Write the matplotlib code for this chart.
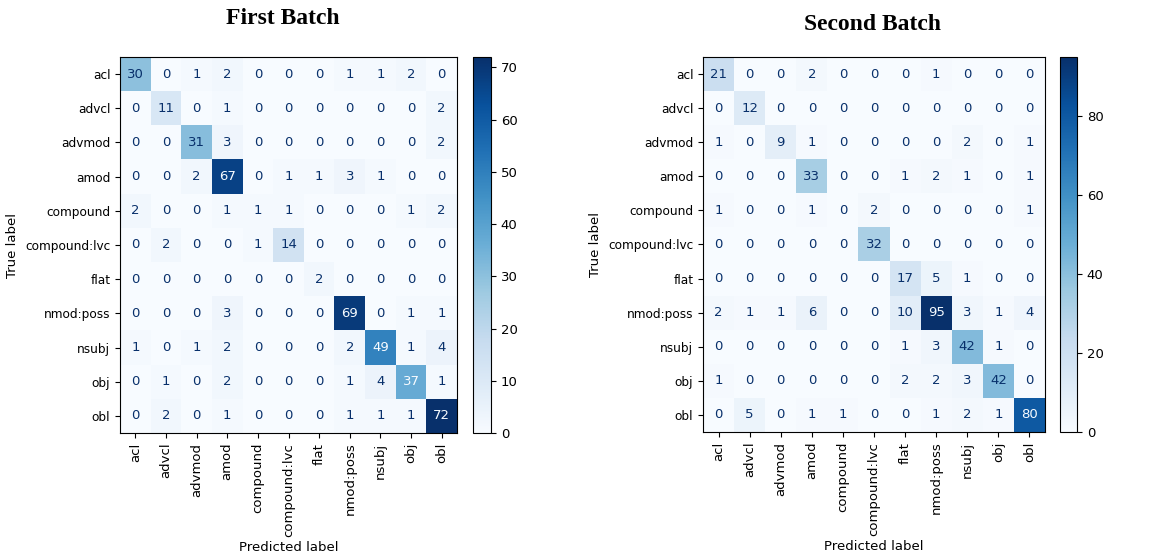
import numpy as np
import matplotlib
matplotlib.use("Agg")
import matplotlib.pyplot as plt

labels = ["acl", "advcl", "advmod", "amod", "compound", "compound:lvc",
          "flat", "nmod:poss", "nsubj", "obj", "obl"]

first_batch = [
    [30, 0, 1, 2, 0, 0, 0, 1, 1, 2, 0],
    [0, 11, 0, 1, 0, 0, 0, 0, 0, 0, 2],
    [0, 0, 31, 3, 0, 0, 0, 0, 0, 0, 2],
    [0, 0, 2, 67, 0, 1, 1, 3, 1, 0, 0],
    [2, 0, 0, 1, 1, 1, 0, 0, 0, 1, 2],
    [0, 2, 0, 0, 1, 14, 0, 0, 0, 0, 0],
    [0, 0, 0, 0, 0, 0, 2, 0, 0, 0, 0],
    [0, 0, 0, 3, 0, 0, 0, 69, 0, 1, 1],
    [1, 0, 1, 2, 0, 0, 0, 2, 49, 1, 4],
    [0, 1, 0, 2, 0, 0, 0, 1, 4, 37, 1],
    [0, 2, 0, 1, 0, 0, 0, 1, 1, 1, 72],
]

second_batch = [
    [21, 0, 0, 2, 0, 0, 0, 1, 0, 0, 0],
    [0, 12, 0, 0, 0, 0, 0, 0, 0, 0, 0],
    [1, 0, 9, 1, 0, 0, 0, 0, 2, 0, 1],
    [0, 0, 0, 33, 0, 0, 1, 2, 1, 0, 1],
    [1, 0, 0, 1, 0, 2, 0, 0, 0, 0, 1],
    [0, 0, 0, 0, 0, 32, 0, 0, 0, 0, 0],
    [0, 0, 0, 0, 0, 0, 17, 5, 1, 0, 0],
    [2, 1, 1, 6, 0, 0, 10, 95, 3, 1, 4],
    [0, 0, 0, 0, 0, 0, 1, 3, 42, 1, 0],
    [1, 0, 0, 0, 0, 0, 2, 2, 3, 42, 0],
    [0, 5, 0, 1, 1, 0, 0, 1, 2, 1, 80],
]

titles = ["First Batch", "Second Batch"]

W, H = 1150, 553
fig = plt.figure(figsize=(W / 100, H / 100), dpi=100)
cmap = plt.get_cmap("Blues")


def px(x0, y0, x1, y1):
    # pixel box (top-left origin) -> figure fraction rect
    return [x0 / W, 1 - y1 / H, (x1 - x0) / W, (y1 - y0) / H]


def draw_cm(ax, cax, data):
    cm = np.array(data)
    im = ax.imshow(cm, cmap=cmap, aspect="auto", interpolation="nearest")
    thresh = (cm.max() + cm.min()) / 2.0
    cmin, cmax = cmap(0.0), cmap(1.0)
    for i in range(cm.shape[0]):
        for j in range(cm.shape[1]):
            ax.text(j, i, str(cm[i, j]), ha="center", va="center", fontsize=9.5,
                    color=cmax if cm[i, j] < thresh else cmin)
    ax.set_xticks(range(len(labels)))
    ax.set_yticks(range(len(labels)))
    ax.set_xticklabels(labels, rotation=90, fontsize=9.5)
    ax.set_yticklabels(labels, fontsize=8.7)
    ax.set_xlabel("Predicted label", fontsize=9.5, labelpad=3)
    ax.set_ylabel("True label", fontsize=9.5)
    cb = fig.colorbar(im, cax=cax)
    cb.ax.tick_params(labelsize=9.5)
    cb.outline.set_linewidth(0.8)


ax1 = fig.add_axes(px(120, 57, 457, 433))
cax1 = fig.add_axes(px(473, 57, 491, 433))
draw_cm(ax1, cax1, first_batch)

ax2 = fig.add_axes(px(703, 57, 1045, 432))
cax2 = fig.add_axes(px(1060, 57, 1077, 432))
draw_cm(ax2, cax2, second_batch)

fig.text(283 / W, 1 - 19 / H, titles[0], ha="center", va="center",
         fontsize=17, fontweight="bold", family="Liberation Serif")
fig.text(873 / W, 1 - 24 / H, titles[1], ha="center", va="center",
         fontsize=17, fontweight="bold", family="Liberation Serif")

fig.savefig("out.png", dpi=100)
